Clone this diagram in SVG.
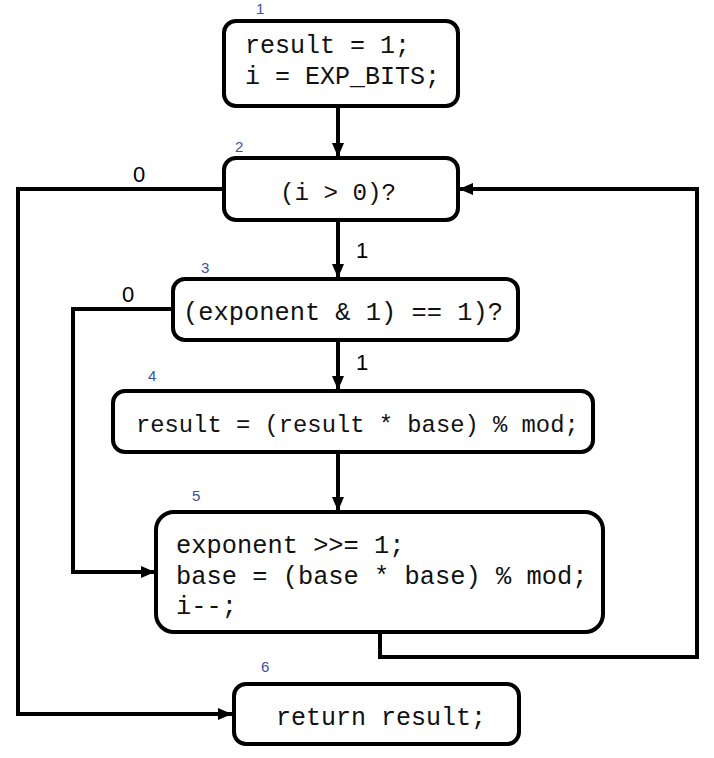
<svg xmlns="http://www.w3.org/2000/svg" width="714" height="758" viewBox="0 0 714 758">
<style>
.box{fill:#fff;stroke:#000;stroke-width:4}
.code{font-family:"Liberation Mono","DejaVu Sans Mono",monospace;font-size:25px;fill:#111}
.num{font-family:"Liberation Sans",Arial,sans-serif;font-size:15px;fill:#3b4f9c}
.lbl{font-family:"Liberation Sans",Arial,sans-serif;font-size:22px;fill:#000}
.edge{fill:none;stroke:#000;stroke-width:4}
</style>
<defs>
<marker id="arr" markerUnits="userSpaceOnUse" markerWidth="14" markerHeight="14" viewBox="0 0 14 14" refX="14" refY="7" orient="auto">
<path d="M0,1 L14,7 L0,13 Z" fill="#000"/>
</marker>
</defs>
<rect width="714" height="758" fill="#fff"/>
<g id="connectors">
<path class="edge" d="M338,106 V157" marker-end="url(#arr)"/>
<path class="edge" d="M338,220 V278" marker-end="url(#arr)"/>
<path class="edge" d="M338,340 V390" marker-end="url(#arr)"/>
<path class="edge" d="M338,452 V511" marker-end="url(#arr)"/>
<path class="edge" d="M224,189 H18 V714 H232" marker-end="url(#arr)"/>
<path class="edge" d="M173,309 H73 V572 H155" marker-end="url(#arr)"/>
<path class="edge" d="M380,632 V657 H697 V189 H459" marker-end="url(#arr)"/>
<text class="lbl" x="133" y="182">0</text>
<text class="lbl" x="356" y="258">1</text>
<text class="lbl" x="122" y="302">0</text>
<text class="lbl" x="356" y="370">1</text>
</g>
<g id="node1">
<rect class="box" x="224" y="21" width="234" height="85" rx="12"/>
<text class="num" x="256" y="14">1</text>
<text class="code" x="245" y="53">result = 1;</text>
<text class="code" x="245" y="84">i = EXP_BITS;</text>
</g>
<g id="node2">
<rect class="box" x="224" y="158" width="234" height="62" rx="12"/>
<text class="num" x="235" y="152">2</text>
<text class="code" x="280" y="200" style="font-size:24.2px">(i &gt; 0)?</text>
</g>
<g id="node3">
<rect class="box" x="173" y="279" width="345" height="61" rx="12"/>
<text class="num" x="201" y="273">3</text>
<text class="code" x="183" y="320" style="font-size:25.4px">(exponent &amp; 1) == 1)?</text>
</g>
<g id="node4">
<rect class="box" x="113" y="391" width="480" height="61" rx="12"/>
<text class="num" x="148" y="381">4</text>
<text class="code" x="136" y="432" style="font-size:23.8px">result = (result * base) % mod;</text>
</g>
<g id="node5">
<rect class="box" x="156" y="512" width="447" height="120" rx="18"/>
<text class="num" x="192" y="501">5</text>
<text class="code" x="176" y="553" style="font-size:25.4px">exponent &gt;&gt;= 1;</text>
<text class="code" x="176" y="584" style="font-size:25.4px">base = (base * base) % mod;</text>
<text class="code" x="176" y="614" style="font-size:25.4px">i--;</text>
</g>
<g id="node6">
<rect class="box" x="234" y="684" width="285" height="60" rx="12"/>
<text class="num" x="261" y="672">6</text>
<text class="code" x="276" y="725">return result;</text>
</g>
</svg>
